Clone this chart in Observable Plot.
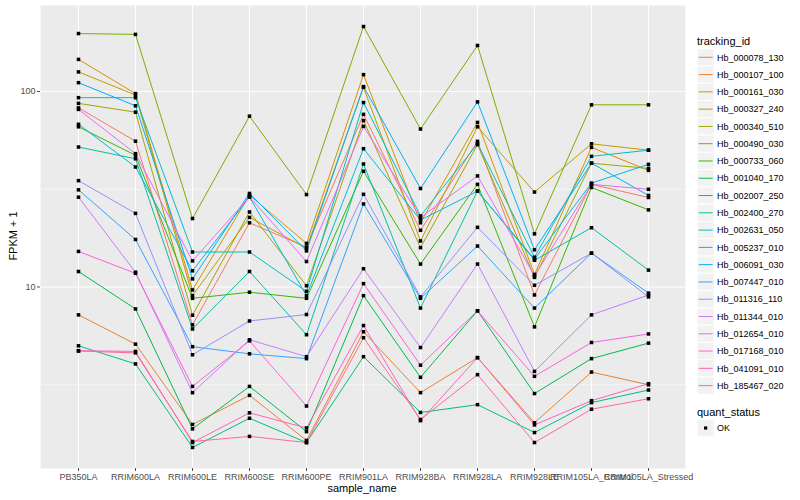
<!DOCTYPE html>
<html>
<head>
<meta charset="utf-8">
<script src="https://cdn.jsdelivr.net/npm/d3@7"></script>
<script src="https://cdn.jsdelivr.net/npm/@observablehq/plot@0.6"></script>
<style>
  body { margin: 0; background: white; }
  #wrap { position: relative; width: 800px; height: 500px; font-family: "Liberation Sans", Arial, sans-serif; }
  #chart { position: absolute; left: 0; top: 0; }
  #legend { position: absolute; left: 690px; top: 0; }
  .axtitle { position: absolute; font-size: 11px; color: #000; white-space: nowrap; }
</style>
</head>
<body>
<div id="wrap">
  <div id="chart"></div>
  <div id="legend"></div>
  <div class="axtitle" id="ytitle" style="left:13px; top:236px; transform: translate(-50%,-50%) rotate(-90deg);">FPKM + 1</div>
  <div class="axtitle" id="xtitle" style="left:362px; top:488px; transform: translate(-50%,-50%);">sample_name</div>
</div>
<script>
// ---- data ----
const samples = ["PB350LA","RRIM600LA","RRIM600LE","RRIM600SE","RRIM600PE","RRIM901LA","RRIM928BA","RRIM928LA","RRIM928LE","RRIM105LA_Control","RRIM105LA_Stressed"];
const trackingIds = ["Hb_000078_130","Hb_000107_100","Hb_000161_030","Hb_000327_240","Hb_000340_510","Hb_000490_030","Hb_000733_060","Hb_001040_170","Hb_002007_250","Hb_002400_270","Hb_002631_050","Hb_005237_010","Hb_006091_030","Hb_007447_010","Hb_011316_110","Hb_011344_010","Hb_012654_010","Hb_017168_010","Hb_041091_010","Hb_185467_020"];
const quantStatus = ["OK"];
const yTickValues = [10, 100];

const hb000078_130 = [82.5, 55.7, 6.4, 21.3, 16.0, 76.4, 19.5, 55.6, 9.1, 33.5, 28.7];
const hb000107_100 = [7.2, 5.1, 1.98, 2.79, 1.64, 5.9, 2.88, 4.35, 2.02, 3.67, 3.16];
const hb000161_030 = [146, 97.6, 9.66, 29.5, 16.7, 122, 21.3, 69.5, 11.6, 51.8, 39.5];
const hb000327_240 = [126, 96, 9.03, 22.7, 15.8, 105, 17.2, 66, 30.6, 54, 50.1];
const hb000340_510 = [87, 78.4, 7.17, 24.2, 10.15, 71, 15.9, 53.5, 11.2, 43, 40.4];
const hb000490_030 = [198, 196, 22.4, 74.8, 29.7, 215, 64.3, 172, 18.7, 85.5, 85.5];
const hb000733_060 = [66, 47.2, 8.75, 9.4, 8.75, 39.1, 13.1, 33.5, 6.25, 32.3, 24.8];
const hb001040_170 = [12.0, 7.72, 1.88, 3.1, 1.82, 9.03, 3.45, 7.55, 2.85, 4.3, 5.16];
const hb002007_250 = [5.0, 4.04, 1.51, 2.13, 1.6, 4.4, 2.28, 2.5, 1.8, 2.56, 2.97];
const hb002400_270 = [52, 45.3, 6.1, 12.0, 5.7, 42.6, 7.8, 31, 13.7, 20.1, 12.2];
const hb002631_050 = [93, 93, 15.1, 15.1, 9.5, 87.8, 23.1, 54, 14.2, 46.6, 50.1];
const hb005237_010 = [68, 41.1, 12.1, 28.9, 9.03, 51, 22.0, 30.9, 13.9, 34, 42.4];
const hb006091_030 = [111, 84.5, 11.0, 30.1, 15.3, 106, 31.9, 88.5, 15.5, 43, 29.4];
const hb007447_010 = [31.4, 17.5, 4.95, 4.55, 4.3, 26.6, 8.75, 16.2, 7.8, 14.9, 9.3];
const hb011316_110 = [35, 23.8, 4.5, 6.7, 7.23, 29.8, 8.9, 20.2, 10.2, 14.9, 8.9];
const hb011344_010 = [28.8, 11.9, 2.88, 5.37, 4.4, 12.4, 4.9, 13.1, 3.7, 7.2, 9.1];
const hb012654_010 = [81, 48.1, 13.6, 28.9, 13.5, 66.3, 22.7, 37, 11.4, 33.5, 31.6];
const hb017168_010 = [15.2, 11.75, 3.1, 5.3, 2.46, 10.4, 3.98, 7.55, 3.49, 5.2, 5.75];
const hb041091_010 = [4.72, 4.68, 1.6, 2.27, 1.9, 6.35, 2.07, 4.35, 1.97, 2.62, 3.2];
const hb185467_020 = [4.7, 4.6, 1.62, 1.72, 1.6, 5.5, 2.1, 3.56, 1.6, 2.37, 2.68];

const seriesValues = [hb000078_130, hb000107_100, hb000161_030, hb000327_240, hb000340_510, hb000490_030, hb000733_060, hb001040_170, hb002007_250, hb002400_270, hb002631_050, hb005237_010, hb006091_030, hb007447_010, hb011316_110, hb011344_010, hb012654_010, hb017168_010, hb041091_010, hb185467_020];

// ---- ggplot-like hue palette (R hcl: polar LUV) ----
function hclR(h, c, l) {
  const Xn = 95.047, Yn = 100, Zn = 108.883;
  const Y = l > 8 ? Yn * Math.pow((l + 16) / 116, 3) : Yn * l / 903.3;
  const den = Xn + 15 * Yn + 3 * Zn;
  const un = 4 * Xn / den, vn = 9 * Yn / den;
  const hr = h * Math.PI / 180;
  const u = c * Math.cos(hr), v = c * Math.sin(hr);
  const up = u / (13 * l) + un, vp = v / (13 * l) + vn;
  const X = 9 * Y * up / (4 * vp);
  const Z = -X / 3 - 5 * Y + 3 * Y / vp;
  const x = X / 100, y = Y / 100, z = Z / 100;
  let r = 3.240479 * x - 1.537150 * y - 0.498535 * z;
  let g = -0.969256 * x + 1.875992 * y + 0.041556 * z;
  let b = 0.055648 * x - 0.204043 * y + 1.057311 * z;
  const gam = t => { t = t <= 0.0031308 ? 12.92 * t : 1.055 * Math.pow(t, 1 / 2.4) - 0.055; return Math.round(Math.max(0, Math.min(1, t)) * 255); };
  return d3.rgb(gam(r), gam(g), gam(b)).formatHex();
}
const n = trackingIds.length;
const colors = trackingIds.map((_, i) => hclR(15 + 360 * i / n, 100, 65));

// ---- table ----
const rows = [];
trackingIds.forEach((id, i) => {
  samples.forEach((s, j) => rows.push({id, sample: s, value: seriesValues[i][j], status: quantStatus[0]}));
});

const lext = d3.extent(rows, d => Math.log10(d.value));
const pad = (lext[1] - lext[0]) * 0.05;
const yDomain = [Math.pow(10, lext[0] - pad), Math.pow(10, lext[1] + pad)];
const decades = [1, 10, 100, 1000];
const minorTicks = d3.pairs(decades, (a, b) => Math.sqrt(a * b)).filter(v => v > yDomain[0] && v < yDomain[1]);

const chart = Plot.plot({
  width: 690,
  height: 500,
  marginLeft: 40,
  marginRight: 5,
  marginTop: 5,
  marginBottom: 32,
  style: {fontFamily: "Liberation Sans, Arial, sans-serif", fontSize: "9px", background: "white", overflow: "visible"},
  x: {type: "point", domain: samples, padding: 0.6},
  y: {type: "log", domain: yDomain},
  color: {domain: trackingIds, range: colors},
  marks: [
    Plot.frame({fill: "#EBEBEB", stroke: "none"}),
    Plot.ruleY(minorTicks, {stroke: "white", strokeWidth: 0.55}),
    Plot.ruleY(yTickValues, {stroke: "white", strokeWidth: 1.1}),
    Plot.ruleX(samples, {stroke: "white", strokeWidth: 1.1}),
    Plot.line(rows, {x: "sample", y: "value", z: "id", stroke: "id", strokeWidth: 1}),
    Plot.dot(rows, {x: "sample", y: "value", symbol: "square", r: 2, fill: "black", stroke: "none"}),
    Plot.axisX({tickSize: 3, tickPadding: 2, label: null, color: "#4D4D4D", fontSize: 9}),
    Plot.axisY({ticks: yTickValues, tickFormat: d => String(d), tickSize: 3, tickPadding: 2, label: null, color: "#4D4D4D", fontSize: 9})
  ]
});
document.getElementById("chart").appendChild(chart);

// ---- legend ----
const lg = d3.select("#legend").append("svg").attr("width", 110).attr("height", 500)
  .style("font-family", "Liberation Sans, Arial, sans-serif");
lg.append("text").attr("x", 7).attr("y", 45).attr("font-size", 11).text("tracking_id");
const keySize = 17.28, y0 = 57.3;
trackingIds.forEach((id, i) => {
  const cy = y0 + keySize * i;
  lg.append("rect").attr("x", 7).attr("y", cy - keySize / 2).attr("width", keySize).attr("height", keySize)
    .attr("fill", "#F2F2F2").attr("stroke", "white").attr("stroke-width", 1);
  lg.append("line").attr("x1", 8.7).attr("x2", 7 + keySize - 1.7).attr("y1", cy).attr("y2", cy)
    .attr("stroke", colors[i]).attr("stroke-width", 1);
  lg.append("text").attr("x", 27).attr("y", cy + 3.2).attr("font-size", 9).text(id);
});
lg.append("text").attr("x", 7).attr("y", 416).attr("font-size", 11).text("quant_status");
quantStatus.forEach((s, i) => {
  const cy = 428 + keySize * i;
  lg.append("rect").attr("x", 7).attr("y", cy - keySize / 2).attr("width", keySize).attr("height", keySize)
    .attr("fill", "#F2F2F2").attr("stroke", "white");
  lg.append("rect").attr("x", 7 + keySize / 2 - 1.6).attr("y", cy - 1.6).attr("width", 3.2).attr("height", 3.2).attr("fill", "black");
  lg.append("text").attr("x", 27).attr("y", cy + 3.2).attr("font-size", 9).text(s);
});
</script>
</body>
</html>
